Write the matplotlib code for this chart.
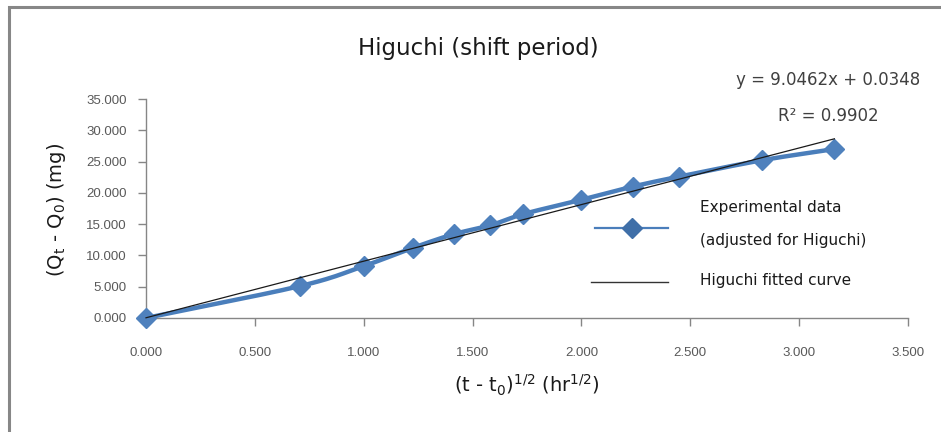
import numpy as np
import matplotlib
matplotlib.use("Agg")
import matplotlib.pyplot as plt
from matplotlib.lines import Line2D
from matplotlib.patches import Rectangle
from matplotlib.ticker import FormatStrFormatter

# Square root of elapsed time (hr^1/2) and cumulative release (mg)
sqrt_time = [0.000, 0.707, 1.000, 1.225, 1.414, 1.581, 1.732, 2.000, 2.236, 2.449, 2.828, 3.162]
released = [0.000, 5.1, 8.3, 11.2, 13.4, 14.8, 16.6, 18.9, 21.0, 22.6, 25.2, 27.0]

# Linear trend parameters
slope = 9.0462
intercept = 0.0348
r_squared = 0.9902

x_ticks = [0.0, 0.5, 1.0, 1.5, 2.0, 2.5, 3.0, 3.5]
y_ticks = [0, 5, 10, 15, 20, 25, 30, 35]

BLUE = "#4A7EBB"
MARKER_BLUE = "#4F81BD"
GRAY = "#868686"
TEXT = "#404040"
SANS = ["DejaVu Sans"]

W, H = 941, 432
fig = plt.figure(figsize=(W / 100, H / 100), dpi=100)
fig.patch.set_facecolor("white")

# chart frame
fig.add_artist(Rectangle((8.5 / W, -0.1), 1.2, 1 - 7.5 / H + 0.1,
                         transform=fig.transFigure, fill=False,
                         edgecolor="#878787", linewidth=2.2))

ax = fig.add_axes([146 / W, 1 - 318 / H, (908 - 146) / W, (318 - 99) / H])


def catmull_rom(xs, ys, n=20):
    xs = np.asarray(xs, float)
    ys = np.asarray(ys, float)
    px = np.concatenate([[2 * xs[0] - xs[1]], xs, [2 * xs[-1] - xs[-2]]])
    py = np.concatenate([[2 * ys[0] - ys[1]], ys, [2 * ys[-1] - ys[-2]]])
    outx, outy = [], []
    t = np.linspace(0, 1, n, endpoint=False)
    for i in range(1, len(px) - 2):
        for arr, out in ((px, outx), (py, outy)):
            p0, p1, p2, p3 = arr[i - 1], arr[i], arr[i + 1], arr[i + 2]
            out.extend(0.5 * ((2 * p1) + (-p0 + p2) * t
                              + (2 * p0 - 5 * p1 + 4 * p2 - p3) * t ** 2
                              + (-p0 + 3 * p1 - 3 * p2 + p3) * t ** 3))
    outx.append(xs[-1])
    outy.append(ys[-1])
    return np.array(outx), np.array(outy)


sx, sy = catmull_rom(sqrt_time, released)
ax.plot(sx, sy, color=BLUE, linewidth=3.2, solid_capstyle="round", zorder=2,
        clip_on=False)
ax.plot(sqrt_time, released, linestyle="none", marker="D", markersize=10.5,
        markerfacecolor=MARKER_BLUE, markeredgecolor=MARKER_BLUE, zorder=3,
        clip_on=False)

fit_x = np.array([sqrt_time[0], sqrt_time[-1]])
fit_y = slope * fit_x + intercept
ax.plot(fit_x, fit_y, color="#1a1a1a", linewidth=0.9, zorder=4, clip_on=False)

ax.set_xlim(0, 3.5)
ax.set_ylim(0, 35)
ax.set_xticks(x_ticks)
ax.set_yticks(y_ticks)
ax.xaxis.set_major_formatter(FormatStrFormatter("%.3f"))
ax.yaxis.set_major_formatter(FormatStrFormatter("%.3f"))

for s in ("top", "right"):
    ax.spines[s].set_visible(False)
for s in ("left", "bottom"):
    ax.spines[s].set_color(GRAY)
    ax.spines[s].set_linewidth(1.0)
ax.tick_params(axis="both", colors=GRAY, length=6, width=1.0,
               labelcolor="#595959", labelsize=9.5)
ax.tick_params(axis="x", pad=15)
ax.tick_params(axis="y", pad=8)
for lab in ax.get_xticklabels() + ax.get_yticklabels():
    lab.set_fontfamily(["Liberation Sans Narrow", "Liberation Sans"])

fig.text(478 / W, 1 - 48 / H, "Higuchi (shift period)", ha="center", va="center",
         fontsize=16.5, color="#1a1a1a", family=SANS)
fig.text(920 / W, 1 - 80 / H, f"y = {slope:.4f}x + {intercept:.4f}", ha="right",
         va="center", fontsize=12, color=TEXT, family=SANS)
fig.text(828 / W, 1 - 116 / H, f"R² = {r_squared:.4f}", ha="center",
         va="center", fontsize=12, color=TEXT, family=SANS)

fig.text(57 / W, 1 - 210 / H, r"(Q$_\mathregular{t}$ - Q$_\mathregular{0}$) (mg)",
         rotation=90, ha="center", va="center", fontsize=14, color="#1a1a1a",
         family=SANS)
fig.text(527 / W, 1 - 385 / H,
         r"(t - t$_\mathregular{0}$)$^\mathregular{1/2}$ (hr$^\mathregular{1/2}$)",
         ha="center", va="center", fontsize=14, color="#1a1a1a", family=SANS)

# legend
fig.add_artist(Line2D([595 / W, 668 / W], [1 - 228 / H] * 2, transform=fig.transFigure,
                      color=BLUE, linewidth=1.6))
fig.add_artist(Line2D([632 / W], [1 - 228 / H], transform=fig.transFigure,
                      marker="D", markersize=10, markerfacecolor="#3F6FA8",
                      markeredgecolor="#3F6FA8"))
fig.add_artist(Line2D([591 / W, 668 / W], [1 - 282 / H] * 2, transform=fig.transFigure,
                      color="#333333", linewidth=1.0))
for y, txt in ((207, "Experimental data"), (241, "(adjusted for Higuchi)"),
               (280, "Higuchi fitted curve")):
    fig.text(700 / W, 1 - y / H, txt, ha="left", va="center", fontsize=11,
             color="#1a1a1a", family=SANS)

fig.savefig("out.png", dpi=100, facecolor="white")
